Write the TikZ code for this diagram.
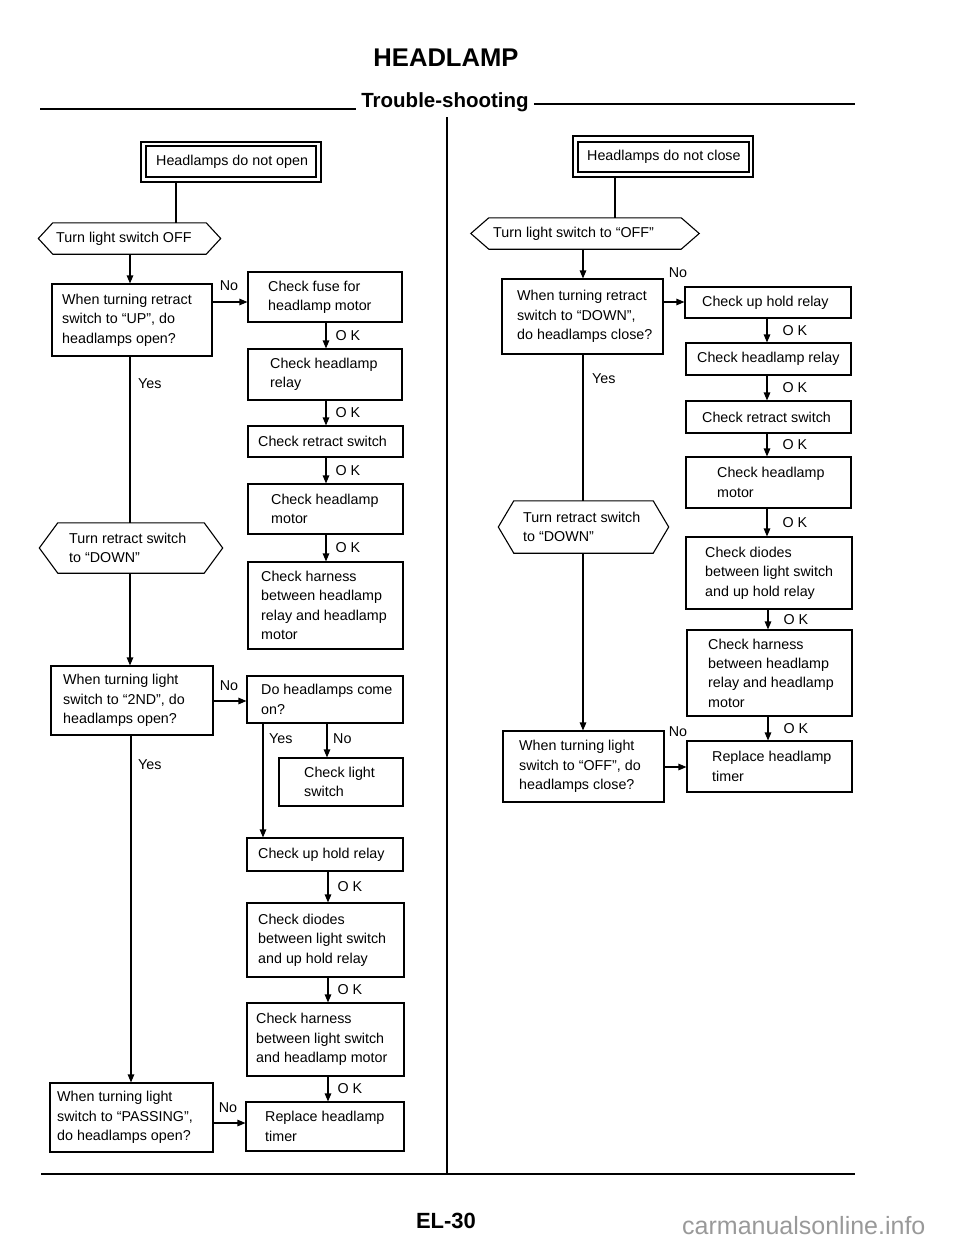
\documentclass[tikz,border=0pt]{standalone}
\usepackage{fontspec}
\setmainfont{Liberation Sans}
\usetikzlibrary{arrows.meta}
\tikzset{
  ln/.style={line width=1.1pt},
  arr/.style={line width=1.1pt,-{Triangle[length=8pt,width=6.5pt]}},
  box/.style={draw,line width=1.1pt,inner sep=0pt},
  txt/.style={inner sep=0pt,align=left,font=\fontsize{14.3}{19.3}\selectfont},
  lbl/.style={inner sep=0pt,font=\fontsize{14.3}{19.3}\selectfont},
  okL/.style={midway,anchor=west,xshift=9pt,inner sep=0pt,font=\fontsize{14.3}{19.3}\selectfont},
  okR/.style={midway,anchor=west,xshift=15pt,inner sep=0pt,font=\fontsize{14.3}{19.3}\selectfont},
}
% name, x1, y1, x2, y2, text start x, text
\newcommand\mybox[7]{%
  \node[box,minimum width={(#4-#2)*1pt},minimum height={(#5-#3)*1pt}] (#1) at ({(#2+#4)/2},{(#3+#5)/2}) {};
  \node[txt,anchor=west] (#1-t) at (#6,{(#3+#5)/2}) {#7};
}
% name, x1 (flat), y1, x2 (flat), y2, tip offset, text start x, text
\newcommand\myhex[8]{%
  \node[inner sep=0pt,minimum width={(#4-#2)*1pt},minimum height={(#5-#3)*1pt}] (#1) at ({(#2+#4)/2},{(#3+#5)/2}) {};
  \draw[ln] (#1.north west) -- (#1.north east) -- ([xshift=#6pt]#1.east) -- (#1.south east) -- (#1.south west) -- ([xshift=-#6pt]#1.west) -- cycle;
  \node[txt,anchor=west] (#1-t) at (#7,{(#3+#5)/2}) {#8};
}
\begin{document}
\begin{tikzpicture}[x=1pt,y=-1pt]
\useasboundingbox (0,0) rectangle (960,1242);

% header
\node[inner sep=0pt,anchor=base,font=\fontsize{25.6}{28}\selectfont\bfseries] (title) at (446,66) {HEADLAMP};
\node[inner sep=0pt,anchor=base,font=\fontsize{20.5}{24}\selectfont\bfseries] (sub) at (445,107) {Trouble-shooting};
\draw[ln] (40,109) -- ([xshift=-5pt]sub.base west |- 0,109);
\draw[ln] ([xshift=5pt]sub.base east |- 0,104) -- (855,104);
\draw[ln] (447,117) -- (447,1174);
\draw[ln] (41,1174) -- (855,1174);
\node[inner sep=0pt,anchor=base,font=\fontsize{22}{24}\selectfont\bfseries] (page) at (446,1228) {EL-30};
\node[inner sep=0pt,anchor=base west,text=black!40,font=\fontsize{25}{27}\selectfont] (wm) at (682,1234) {carmanualsonline.info};

% ===== left column =====
\node[box,minimum width=180pt,minimum height=40pt] (L0) at (231,162) {};
\node[box,minimum width=170pt,minimum height=31pt] (L0i) at (231,161.5) {};
\node[txt,anchor=west] (L0-t) at (156,162) {Headlamps do not open};
\myhex{L1}{53}{223}{206}{254}{14.5}{56}{Turn light switch OFF}
\mybox{Lq1}{52}{284}{212}{356}{62}{When turning retract\\switch to “UP”, do\\headlamps open?}
\mybox{Lc1}{248}{272}{402}{322}{268}{Check fuse for\\headlamp motor}
\mybox{Lc2}{248}{349}{402}{400}{270}{Check headlamp\\relay}
\mybox{Lc3}{248}{426}{403}{457}{258}{Check retract switch}
\mybox{Lc4}{248}{484}{403}{534}{271}{Check headlamp\\motor}
\mybox{Lc5}{248}{562}{403}{649}{261}{Check harness\\between headlamp\\relay and headlamp\\motor}
\myhex{L2}{58}{523}{204}{573}{18.5}{69}{Turn retract switch\\to “DOWN”}
\mybox{Lq2}{51}{666}{213}{735}{63}{When turning light\\switch to “2ND”, do\\headlamps open?}
\mybox{Ld}{247}{676}{403}{723}{261}{Do headlamps come\\on?}
\mybox{Lcl}{279}{758}{403}{806}{304}{Check light\\switch}
\mybox{Lu}{247}{838}{403}{871}{258}{Check up hold relay}
\mybox{Ldi}{247}{903}{404}{977}{258}{Check diodes\\between light switch\\and up hold relay}
\mybox{Lh2}{247}{1003}{404}{1076}{256}{Check harness\\between light switch\\and headlamp motor}
\mybox{Lr}{246}{1102}{404}{1151}{265}{Replace headlamp\\timer}
\mybox{Lq3}{50}{1083}{213}{1152}{57}{When turning light\\switch to “PASSING”,\\do headlamps open?}

\draw[ln] (L0.south -| 176,0) -- (L1.north -| 176,0);
\draw[arr] (L1.south -| 130,0) -- (Lq1.north -| 130,0);
\draw[arr] (Lq1.east |- 0,302) -- (Lc1.west |- 0,302);
\node[lbl] (nL1) at (229,286) {No};
\draw[arr] (Lc1.south -| 326,0) -- (Lc2.north -| 326,0) node[okL] {O K};
\draw[arr] (Lc2.south -| 326,0) -- (Lc3.north -| 326,0) node[okL] {O K};
\draw[arr] (Lc3.south -| 326,0) -- (Lc4.north -| 326,0) node[okL] {O K};
\draw[arr] (Lc4.south -| 326,0) -- (Lc5.north -| 326,0) node[okL] {O K};
\draw[ln] (Lq1.south -| 130,0) -- (L2.north -| 130,0);
\node[lbl,anchor=west] (yL1) at (138,384) {Yes};
\draw[arr] (L2.south -| 130,0) -- (Lq2.north -| 130,0);
\draw[arr] (Lq2.east |- 0,701) -- (Ld.west |- 0,701);
\node[lbl] (nL2) at (229,686) {No};
\draw[arr] (Ld.south -| 327,0) -- (Lcl.north -| 327,0);
\node[lbl,anchor=west] (nL3) at (333,739) {No};
\draw[arr] (Ld.south -| 263,0) -- (Lu.north -| 263,0);
\node[lbl,anchor=west] (yL3) at (269,739) {Yes};
\draw[arr] (Lu.south -| 328,0) -- (Ldi.north -| 328,0) node[okL] {O K};
\draw[arr] (Ldi.south -| 328,0) -- (Lh2.north -| 328,0) node[okL] {O K};
\draw[arr] (Lh2.south -| 328,0) -- (Lr.north -| 328,0) node[okL] {O K};
\draw[arr] (Lq2.south -| 131,0) -- (Lq3.north -| 131,0);
\node[lbl,anchor=west] (yL2) at (138,765) {Yes};
\draw[arr] (Lq3.east |- 0,1123) -- (Lr.west |- 0,1123);
\node[lbl] (nL4) at (228,1108) {No};

% ===== right column =====
\node[box,minimum width=180pt,minimum height=41pt] (R0) at (663,156.5) {};
\node[box,minimum width=171pt,minimum height=30pt] (R0i) at (663.5,157) {};
\node[txt,anchor=west] (R0-t) at (587,157) {Headlamps do not close};
\myhex{R1}{489}{218}{681}{249}{18}{493}{Turn light switch to “OFF”}
\mybox{Rq1}{502}{279}{663}{354}{517}{When turning retract\\switch to “DOWN”,\\do headlamps close?}
\mybox{Rc1}{685}{287}{851}{318}{702}{Check up hold relay}
\mybox{Rc2}{686}{343}{851}{375}{697}{Check headlamp relay}
\mybox{Rc3}{686}{401}{851}{433}{702}{Check retract switch}
\mybox{Rc4}{686}{457}{851}{508}{717}{Check headlamp\\motor}
\mybox{Rc5}{686}{537}{852}{609}{705}{Check diodes\\between light switch\\and up hold relay}
\mybox{Rc6}{687}{630}{852}{716}{708}{Check harness\\between headlamp\\relay and headlamp\\motor}
\mybox{Rr}{687}{741}{852}{792}{712}{Replace headlamp\\timer}
\myhex{R2}{514}{501}{653}{553}{15.5}{523}{Turn retract switch\\to “DOWN”}
\mybox{Rq2}{503}{731}{664}{802}{519}{When turning light\\switch to “OFF”, do\\headlamps close?}

\draw[ln] (R0.south -| 615,0) -- (R1.north -| 615,0);
\draw[arr] (R1.south -| 583,0) -- (Rq1.north -| 583,0);
\draw[arr] (Rq1.east |- 0,302) -- (Rc1.west |- 0,302);
\node[lbl] (nR1) at (678,273) {No};
\draw[arr] (Rc1.south -| 767,0) -- (Rc2.north -| 767,0) node[okR] {O K};
\draw[arr] (Rc2.south -| 767,0) -- (Rc3.north -| 767,0) node[okR] {O K};
\draw[arr] (Rc3.south -| 767,0) -- (Rc4.north -| 767,0) node[okR] {O K};
\draw[arr] (Rc4.south -| 767,0) -- (Rc5.north -| 767,0) node[okR] {O K};
\draw[arr] (Rc5.south -| 768,0) -- (Rc6.north -| 768,0) node[okR] {O K};
\draw[arr] (Rc6.south -| 768,0) -- (Rr.north -| 768,0) node[okR] {O K};
\draw[ln] (Rq1.south -| 583,0) -- (R2.north -| 583,0);
\node[lbl,anchor=west] (yR1) at (592,379) {Yes};
\draw[arr] (R2.south -| 583,0) -- (Rq2.north -| 583,0);
\draw[arr] (Rq2.east |- 0,767) -- (Rr.west |- 0,767);
\node[lbl] (nR2) at (678,732) {No};
\end{tikzpicture}
\end{document}
